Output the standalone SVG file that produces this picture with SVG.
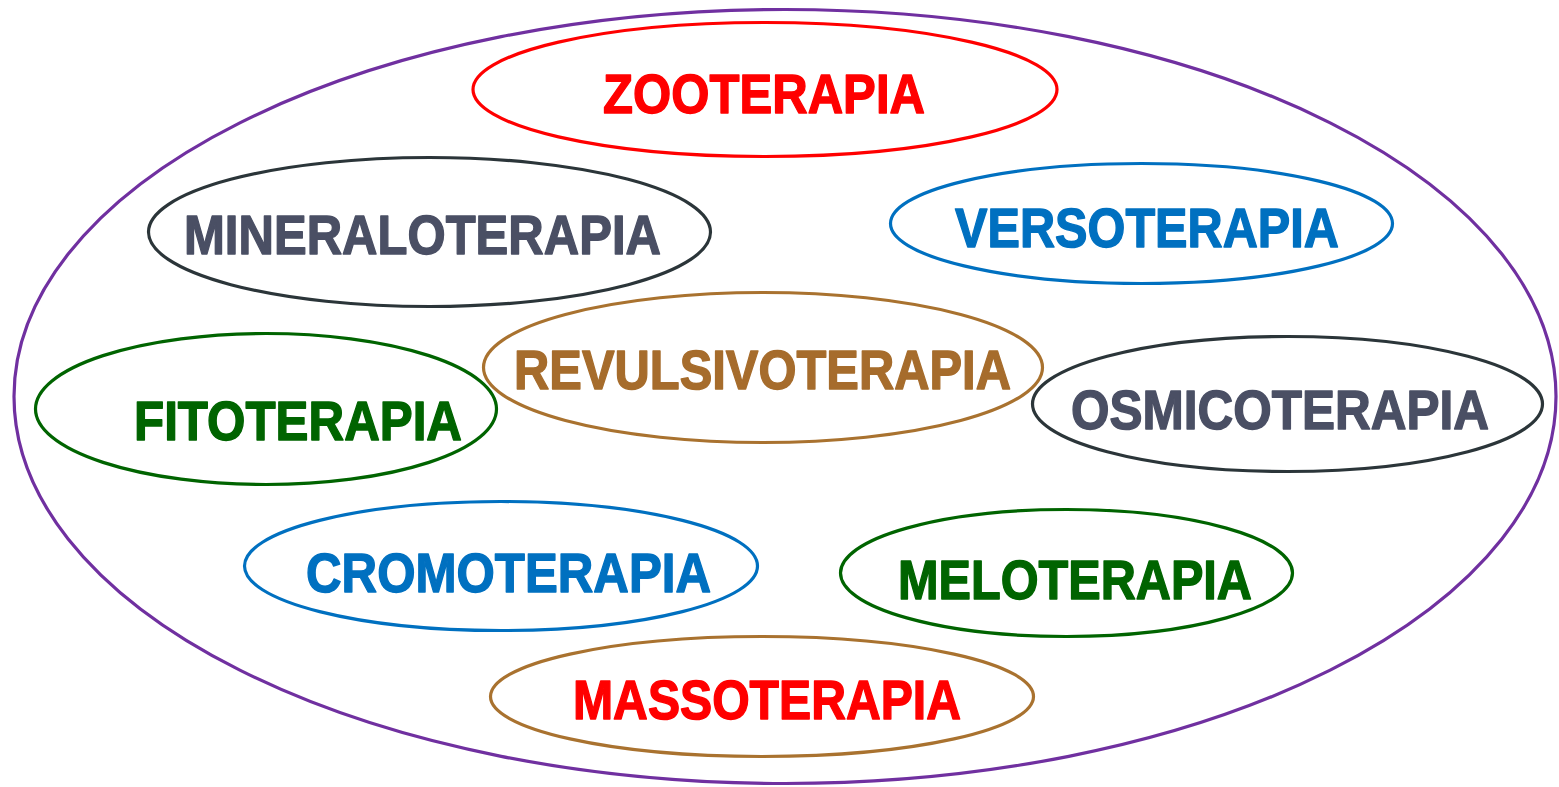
<svg xmlns="http://www.w3.org/2000/svg" width="1559" height="787" viewBox="0 0 1559 787">
<style>
ellipse{fill:none;stroke-width:3.2}
text{font-family:"Liberation Sans","DejaVu Sans",sans-serif;font-weight:bold;font-size:55px;stroke-width:1.4;stroke-linejoin:round}
.red{fill:#ff0000;stroke:#ff0000}.gray{fill:#4a4f64;stroke:#4a4f64}.blue{fill:#0070c0;stroke:#0070c0}.brown{fill:#a66c2c;stroke:#a66c2c}.green{fill:#006400;stroke:#006400}
.sred{stroke:#ff0000}.sgray{stroke:#2b3539}.sblue{stroke:#0070c0}.sbrown{stroke:#a9722f}.sgreen{stroke:#006400}
</style>
<rect width="1559" height="787" fill="#ffffff"/>
<g id="outer"><ellipse cx="785" cy="396.5" rx="771" ry="387" style="stroke:#7030a0"/></g>
<g id="zooterapia"><ellipse class="sred" cx="765" cy="89.5" rx="292" ry="67"/><text class="red" x="603" y="113" textLength="322" lengthAdjust="spacingAndGlyphs">ZOOTERAPIA</text></g>
<g id="mineraloterapia"><ellipse class="sgray" cx="429.5" cy="232" rx="281" ry="74.5"/><text class="gray" x="184" y="254" textLength="477" lengthAdjust="spacingAndGlyphs">MINERALOTERAPIA</text></g>
<g id="versoterapia"><ellipse class="sblue" cx="1141.5" cy="223.5" rx="251" ry="60"/><text class="blue" x="955" y="247" textLength="384" lengthAdjust="spacingAndGlyphs">VERSOTERAPIA</text></g>
<g id="revulsivoterapia"><ellipse class="sbrown" cx="763" cy="367.5" rx="279.5" ry="75"/><text class="brown" x="514" y="389" textLength="497" lengthAdjust="spacingAndGlyphs">REVULSIVOTERAPIA</text></g>
<g id="fitoterapia"><ellipse class="sgreen" cx="266" cy="409" rx="230.5" ry="75.5"/><text class="green" x="134" y="440" textLength="328" lengthAdjust="spacingAndGlyphs">FITOTERAPIA</text></g>
<g id="osmicoterapia"><ellipse class="sgray" cx="1287.5" cy="404" rx="255" ry="67.5"/><text class="gray" x="1071" y="429" textLength="418" lengthAdjust="spacingAndGlyphs">OSMICOTERAPIA</text></g>
<g id="cromoterapia"><ellipse class="sblue" cx="501" cy="566" rx="256.5" ry="64.5"/><text class="blue" x="306" y="592" textLength="405" lengthAdjust="spacingAndGlyphs">CROMOTERAPIA</text></g>
<g id="meloterapia"><ellipse class="sgreen" cx="1066.5" cy="573" rx="226" ry="63.5"/><text class="green" x="898" y="599" textLength="354" lengthAdjust="spacingAndGlyphs">MELOTERAPIA</text></g>
<g id="massoterapia"><ellipse class="sbrown" cx="762" cy="696.5" rx="271.5" ry="60"/><text class="red" x="573" y="719" textLength="388" lengthAdjust="spacingAndGlyphs">MASSOTERAPIA</text></g>
<g id="connectors"></g>
</svg>
